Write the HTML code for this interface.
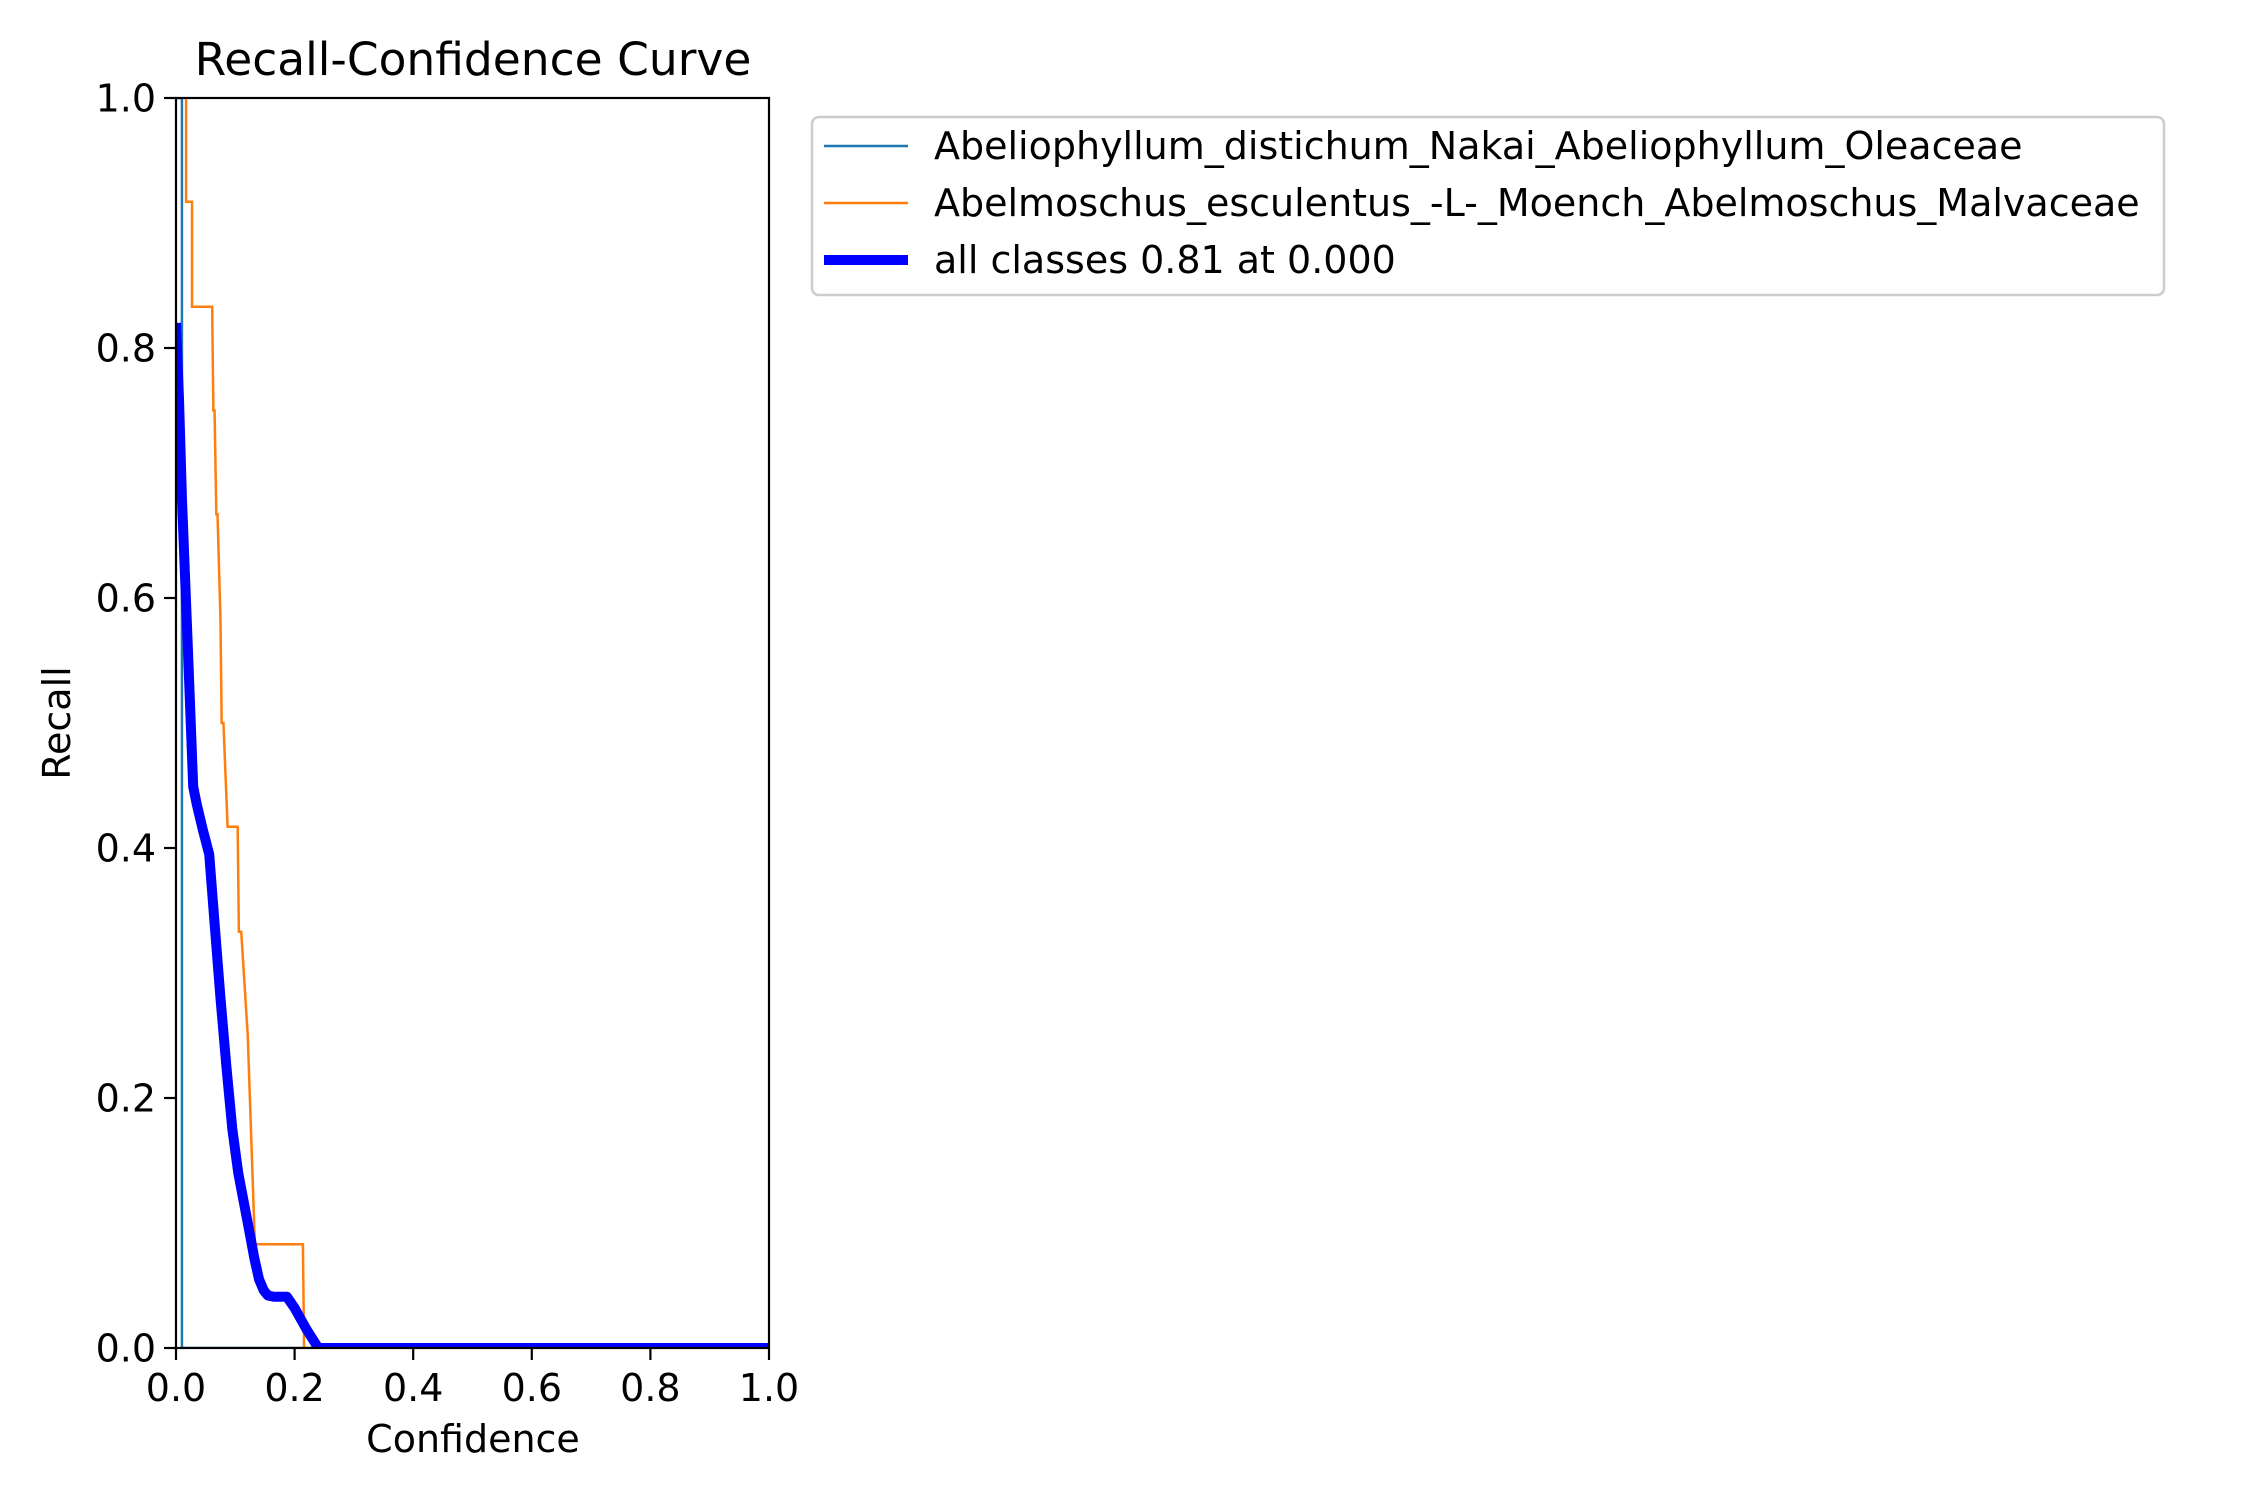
<!DOCTYPE html>
<html><head><meta charset="utf-8">
<style>
html,body{margin:0;padding:0;background:#fff;}
svg{display:block;font-family:"DejaVu Sans","Liberation Sans",sans-serif;}
</style></head>
<body>
<svg id="chart" width="2250" height="1500" viewBox="0 0 2250 1500" xmlns="http://www.w3.org/2000/svg">
<rect x="0" y="0" width="2250" height="1500" fill="#fff"/>
<text x="473" y="75" font-size="45.5" text-anchor="middle">Recall-Confidence Curve</text>
<g id="plot"></g>
<text x="473" y="1452" font-size="38" text-anchor="middle">Confidence</text>
<text transform="translate(70,723) rotate(-90)" font-size="38" text-anchor="middle">Recall</text>
<g>
<rect x="812" y="117" width="1352" height="178" rx="7" fill="#fff" stroke="#cccccc" stroke-width="2.5"/>
<line x1="824" y1="146" x2="908" y2="146" stroke="#1f77b4" stroke-width="2.5"/>
<text x="934" y="159" font-size="38">Abeliophyllum_distichum_Nakai_Abeliophyllum_Oleaceae</text>
<line x1="824" y1="203" x2="908" y2="203" stroke="#ff7f0e" stroke-width="2.5"/>
<text x="934" y="216" font-size="38">Abelmoschus_esculentus_-L-_Moench_Abelmoschus_Malvaceae</text>
<line x1="824" y1="260" x2="908" y2="260" stroke="#0000ff" stroke-width="10"/>
<text x="934" y="273" font-size="38">all classes 0.81 at 0.000</text>
</g>
</svg>
<script>
const xTicks = [0, 0.2, 0.4, 0.6, 0.8, 1.0];
const yTicks = [0, 0.2, 0.4, 0.6, 0.8, 1.0];
const tickLabels = ["0.0", "0.2", "0.4", "0.6", "0.8", "1.0"];
const class1X = [0, 0.01, 0.01, 1.0];
const class1Y = [1.0, 1.0, 0, 0];
const class2X = [0.017, 0.017, 0.027, 0.027, 0.061, 0.063, 0.065, 0.068, 0.07, 0.075, 0.077, 0.08, 0.087, 0.104, 0.106, 0.11, 0.121, 0.133, 0.214, 0.216, 1.0];
const class2Y = [1.0, 0.917, 0.917, 0.833, 0.833, 0.75, 0.75, 0.667, 0.667, 0.583, 0.5, 0.5, 0.417, 0.417, 0.333, 0.333, 0.25, 0.083, 0.083, 0, 0];
const allX = [0, 0.005, 0.01, 0.02, 0.029, 0.035, 0.045, 0.056, 0.065, 0.075, 0.085, 0.095, 0.105, 0.115, 0.125, 0.132, 0.14, 0.148, 0.155, 0.165, 0.187, 0.2, 0.22, 0.24, 1.0];
const allY = [0.82, 0.76, 0.68, 0.56, 0.449, 0.435, 0.415, 0.395, 0.34, 0.28, 0.225, 0.175, 0.14, 0.115, 0.09, 0.072, 0.055, 0.046, 0.042, 0.041, 0.041, 0.032, 0.015, 0, 0];

const L = 176, R = 769, T = 98, B = 1348;
function sx(v){ return L + v * (R - L); }
function sy(v){ return B - v * (B - T); }
const NS = "http://www.w3.org/2000/svg";
const plot = document.getElementById('plot');
function mk(tag, attrs){ const e = document.createElementNS(NS, tag); for (const k in attrs) e.setAttribute(k, attrs[k]); return e; }
function pathD(xs, ys){ return xs.map((x,i)=>(i?'L':'M')+sx(x).toFixed(2)+','+sy(ys[i]).toFixed(2)).join(' '); }

const clip = mk('clipPath', {id:'clip'});
clip.appendChild(mk('rect', {x:L, y:T, width:R-L, height:B-T}));
plot.appendChild(clip);

const p1 = mk('path', {d: pathD(class1X, class1Y), fill:'none', stroke:'#1f77b4', 'stroke-width':2.5, 'clip-path':'url(#clip)'});


plot.appendChild(p1);
const p2 = mk('path', {d: pathD(class2X, class2Y), fill:'none', stroke:'#ff7f0e', 'stroke-width':2.5, 'clip-path':'url(#clip)'});


plot.appendChild(p2);
const p3 = mk('path', {d: pathD(allX, allY), fill:'none', stroke:'#0000ff', 'stroke-width':10, 'stroke-linejoin':'round', 'clip-path':'url(#clip)'});


plot.appendChild(p3);

const frame = mk('rect', {x:L, y:T, width:R-L, height:B-T, fill:'none', stroke:'#000', 'stroke-width':2.2});


plot.appendChild(frame);

xTicks.forEach((v,i)=>{
  const t = mk('line', {x1:sx(v), y1:B, x2:sx(v), y2:B+12, stroke:'#000', 'stroke-width':2.2});
  
  
  plot.appendChild(t);
  const lb = mk('text', {x:sx(v), y:1401, 'font-size':38, 'text-anchor':'middle'});
  lb.textContent = tickLabels[i];
  
  
  plot.appendChild(lb);
});
yTicks.forEach((v,i)=>{
  const t = mk('line', {x1:L-12, y1:sy(v), x2:L, y2:sy(v), stroke:'#000', 'stroke-width':2.2});
  
  
  plot.appendChild(t);
  const lb = mk('text', {x:L-20, y:sy(v)+13.5, 'font-size':38, 'text-anchor':'end'});
  lb.textContent = tickLabels[i];
  
  
  plot.appendChild(lb);
});
</script>
</body></html>
